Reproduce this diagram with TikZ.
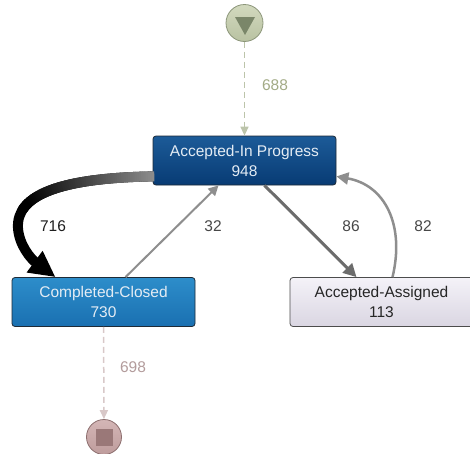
\documentclass[tikz,border=0pt]{standalone}
\usepackage{fontspec}
\setmainfont{Liberation Sans}
\usetikzlibrary{arrows.meta,decorations.markings,shapes.geometric}
\definecolor{ipTop}{HTML}{1C5B98}
\definecolor{ipBot}{HTML}{083B74}
\definecolor{ccTop}{HTML}{2D8DCA}
\definecolor{ccBot}{HTML}{1A70B1}
\definecolor{aaTop}{HTML}{F4F2F8}
\definecolor{aaBot}{HTML}{DAD6E2}
\definecolor{boxBorder}{HTML}{1E2A36}
\definecolor{lightText}{HTML}{E4ECF4}
\definecolor{startFillTop}{HTML}{D2D9BE}
\definecolor{startFillBot}{HTML}{B9C2A2}
\definecolor{startBorder}{HTML}{8C967A}
\definecolor{startTri}{HTML}{7A8669}
\definecolor{startLine}{HTML}{BCC4AA}
\definecolor{startLbl}{HTML}{A3AB86}
\definecolor{endFillTop}{HTML}{D4B6B6}
\definecolor{endFillBot}{HTML}{BE9C9C}
\definecolor{endBorder}{HTML}{8C6E6E}
\definecolor{endSq}{HTML}{9A7878}
\definecolor{endLine}{HTML}{D8C8C8}
\definecolor{endLbl}{HTML}{B39C9C}
\definecolor{edgeA}{HTML}{8E8E8E}
\definecolor{edgeB}{HTML}{6C6C6C}
\begin{document}
\begin{tikzpicture}[x=1pt,y=-1pt,
  boxnode/.style={rectangle, rounded corners=3pt, minimum width=183pt, minimum height=49pt,
    inner sep=0pt, align=center, font=\fontsize{15.5}{20}\selectfont, draw=boxBorder, line width=0.8pt},
  lbl/.style={font=\fontsize{15.5}{18}\selectfont, inner sep=0pt},
  dashedge/.style={line width=1.5pt, dash pattern=on 6pt off 4pt},
  graytip/.style={-{Triangle[length=#1,width=#1]}}
]
\clip (0,0) rectangle (470,453);
\fill[white] (0,0) rectangle (470,453);

% start and end events
\node[circle, minimum size=37pt, inner sep=0pt, draw=startBorder, line width=0.8pt,
  top color=startFillTop, bottom color=startFillBot] (start) at (244.5,23) {};
\fill[startTri] (235,17) -- (255,17) -- (245,35) -- cycle;

\node[circle, minimum size=35pt, inner sep=0pt, draw=endBorder, line width=0.8pt,
  top color=endFillTop, bottom color=endFillBot] (end) at (104,437) {};
\fill[endSq] (95.5,428.5) rectangle (112.5,445.5);

% activities
\node[boxnode, top color=ipTop, bottom color=ipBot, text=lightText] (ip) at (244.5,160.5)
  {Accepted-In Progress\\948};
\node[boxnode, top color=ccTop, bottom color=ccBot, text=lightText] (cc) at (103.5,302)
  {Completed-Closed\\730};
\node[boxnode, top color=aaTop, bottom color=aaBot, text=black!85, draw=black!70] (aa) at (381.5,302)
  {Accepted-Assigned\\113};

% dashed start/end edges
\draw[dashedge, draw=startLine, -{Triangle[length=9pt,width=8pt,fill=startLine]}] (start) -- (ip);
\draw[dashedge, draw=endLine, -{Triangle[length=9pt,width=8pt,fill=endLine]}] (cc) -- (end);

% 716 thick edge with gradient
\draw[line width=10pt, draw=black, -{Triangle[length=26pt,width=25pt]},
  postaction={decorate, decoration={markings,
    mark=between positions 0 and 0.62 step 0.01 with {
      \pgfmathsetmacro\mixpct{min(100,\pgfkeysvalueof{/pgf/decoration/mark info/sequence number}*100/60)}
      \fill[black!\mixpct!edgeA] (-1.7pt,-5pt) rectangle (1.7pt,5pt);
    }}}]
  ([yshift=9pt]ip.south west) .. controls (60,178) and (16,195) .. (18,228)
  .. controls (19,245) and (31,259) .. ([xshift=-48pt]cc.north);

% 32
\draw[line width=2pt, draw=edgeA, graytip=10pt] ([xshift=22pt]cc.north) -- ([xshift=-26pt]ip.south);
% 86
\draw[line width=3pt, draw=edgeB, graytip=13pt] ([xshift=20pt]ip.south) -- ([xshift=-25pt]aa.north);
% 82
\draw[line width=2.5pt, draw=edgeA, graytip=12pt] ([xshift=11pt]aa.north)
  .. controls (405,225) and (385,185) .. ([yshift=9pt]ip.south east);

% labels
\node[lbl, text=startLbl] (l688) at (275,85) {688};
\node[lbl, text=endLbl] (l698) at (133,367) {698};
\node[lbl, text=black!88] (l716) at (53,226) {716};
\node[lbl, text=black!72] (l32) at (213,226) {32};
\node[lbl, text=black!72] (l86) at (351,226) {86};
\node[lbl, text=black!72] (l82) at (423,226) {82};
\end{tikzpicture}
\end{document}
